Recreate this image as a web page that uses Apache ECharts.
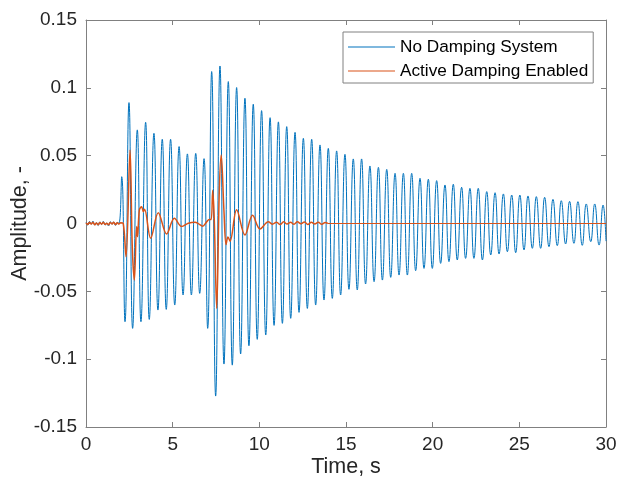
<!DOCTYPE html>
<html>
<head>
<meta charset="utf-8">
<script src="https://cdn.jsdelivr.net/npm/echarts@6/dist/echarts.min.js"></script>
<style>
html,body{margin:0;padding:0;background:#fff;}
#chart{width:617px;height:481px;}
</style>
</head>
<body>
<div id="chart"></div>
<script>
// Tick labels / ranges
const xTicks = [0, 5, 10, 15, 20, 25, 30];
const yTicks = [-0.15, -0.1, -0.05, 0, 0.05, 0.1, 0.15];
const seriesNames = ['No Damping System', 'Active Damping Enabled'];

// "No Damping System": time (s) of samples / extrema
const noDampT = [
  0,0.1,0.2,0.3,0.4,0.5,0.6,0.7,0.8,0.9,1.0,1.1,1.2,1.3,1.4,1.5,1.6,1.7,1.8,1.9,
  2.06,2.25,2.48,2.69,2.96,3.17,3.44,3.65,3.92,4.15,4.40,4.63,4.88,5.12,5.37,5.60,5.85,6.08,6.33,6.56,6.81,7.02,
  7.25,7.48,7.73,7.96,8.21,8.44,8.69,8.92,9.17,9.40,9.65,9.88,10.13,10.37,10.62,10.85,11.10,11.33,11.58,11.81,
  12.06,12.29,12.54,12.77,13.02,13.25,13.50,13.73,13.98,14.21,14.46,14.69,14.94,15.17,15.42,15.65,15.90,16.13,
  16.38,16.62,16.87,17.10,17.35,17.58,17.83,18.06,18.31,18.54,18.79,19.02,19.27,19.50,19.75,19.98,20.23,20.46,
  20.71,20.94,21.19,21.42,21.67,21.90,22.15,22.38,22.63,22.87,23.12,23.35,23.60,23.83,24.08,24.31,24.56,24.79,
  25.03,25.27,25.50,25.75,25.98,26.23,26.46,26.71,26.94,27.19,27.42,27.67,27.90,28.15,28.38,28.63,28.86,29.12,
  29.35,29.60,29.83,30.0
];
const noDampV = [
  0.0008,-0.0012,0.0015,-0.0005,0.0018,-0.0010,0.0006,-0.0015,0.0012,-0.0008,0.0016,-0.0012,0.0004,-0.0018,0.0014,-0.0006,0.0012,-0.0014,0.0008,0.0002,
  0.0345,-0.0724,0.0891,-0.0773,0.0690,-0.0724,0.0746,-0.0707,0.0665,-0.0638,0.0621,-0.0633,0.0621,-0.0601,0.0567,-0.0527,0.0513,-0.0527,0.0517,-0.0515,0.0478,-0.0773,
  0.1120,-0.1272,0.1161,-0.1036,0.1046,-0.1044,0.1002,-0.0962,0.0923,-0.0901,0.0879,-0.0854,0.0832,-0.0822,0.0780,-0.0751,0.0749,-0.0736,0.0714,-0.0699,
  0.0672,-0.0655,0.0628,-0.0626,0.0621,-0.0601,0.0579,-0.0564,0.0554,-0.0552,0.0535,-0.0527,0.0510,-0.0485,0.0476,-0.0490,0.0476,-0.0446,
  0.0424,-0.0429,0.0414,-0.0417,0.0399,-0.0397,0.0370,-0.0380,0.0370,-0.0380,0.0370,-0.0348,0.0333,-0.0331,0.0326,-0.0331,0.0316,-0.0294,
  0.0284,-0.0281,0.0289,-0.0269,0.0267,-0.0257,0.0259,-0.0257,0.0259,-0.0269,0.0235,-0.0232,0.0227,-0.0225,0.0218,-0.0208,0.0210,-0.0215,
  0.0210,-0.0195,0.0203,-0.0183,0.0198,-0.0183,0.0193,-0.0171,0.0178,-0.0163,0.0168,-0.0151,0.0163,-0.0146,0.0161,-0.0161,0.0144,-0.0134,
  0.0144,-0.0159,0.0136,-0.0130
];

// "Active Damping Enabled": noisy/controlled part
const activeT = [
  0,0.1,0.2,0.3,0.4,0.5,0.6,0.7,0.8,0.9,1.0,1.1,1.2,1.3,1.4,1.5,1.6,1.7,1.8,1.9,2.0,2.15,
  2.31,2.54,2.67,2.79,2.92,2.97,3.08,3.21,3.31,3.38,3.73,4.17,4.65,5.10,5.52,5.90,6.29,6.50,6.73,6.95,7.11,7.22,
  7.31,7.40,7.54,7.69,7.80,7.96,8.08,8.19,8.31,8.69,9.17,9.61,10.04,10.52,10.75,
  11.0,11.2,11.4,11.6,11.8,12.0,12.2,12.4,12.6,12.8,13.0,13.2,13.4,13.6,13.8,13.95
];
const activeV = [
  0.0005,-0.0008,0.0010,-0.0004,0.0009,-0.0010,0.0003,-0.0009,0.0007,-0.0005,0.0010,-0.0007,0.0002,-0.0010,0.0008,-0.0003,0.0009,-0.0008,0.0005,-0.0004,0.0006,0.0000,
  -0.0245,0.0542,-0.0171,-0.0417,-0.0023,-0.0097,0.0100,0.0124,0.0087,0.0105,-0.0109,0.0080,-0.0077,0.0038,-0.0023,0.0002,0.0010,-0.0003,-0.0020,0.0010,0.0030,0.0030,
  0.0245,0.0030,-0.0626,0.0240,0.0505,0.0090,-0.0155,-0.0100,-0.0130,0.0101,-0.0085,0.0060,-0.0040,0.0013,-0.0005,
  0.0010,-0.0008,0.0012,-0.0004,0.0010,-0.0006,0.0012,-0.0002,0.0011,-0.0007,0.0009,-0.0004,0.0010,-0.0006,0.0008,0.0000
];
// "Active Damping Enabled": flat tail after the controller output settles
const activeTailT = [13.95, 30];
const activeTailV = [0, 0];

const zip = (a, b) => a.map((t, i) => [t, b[i]]);

const BLUE = '#0072BD', ORANGE = '#D95319';
const AX = '#808080', TXT = '#262626';
const FONT = '"Liberation Sans", Arial, Helvetica, sans-serif';

const chart = echarts.init(document.getElementById('chart'), null, {renderer: 'canvas'});

const baseX = {
  type: 'value', min: xTicks[0], max: xTicks[xTicks.length - 1], interval: 5,
  axisLine: {show: true, onZero: false, lineStyle: {color: AX, width: 1}},
  axisTick: {show: true, inside: true, length: 5, lineStyle: {color: AX}},
  splitLine: {show: false}
};
const baseY = {
  type: 'value', min: yTicks[0], max: yTicks[yTicks.length - 1], interval: 0.05,
  axisLine: {show: true, onZero: false, lineStyle: {color: AX, width: 1}},
  axisTick: {show: true, inside: true, length: 5, lineStyle: {color: AX}},
  splitLine: {show: false}
};

chart.setOption({
  animation: false,
  backgroundColor: '#fff',
  textStyle: {fontFamily: FONT},
  grid: {left: 86, right: 11, top: 20, bottom: 54, containLabel: false, outerBoundsMode: 'none'},
  legend: {
    data: seriesNames.map(n => ({name: n, icon: 'rect'})),
    orient: 'vertical',
    left: 343, top: 32,
    itemWidth: 47, itemHeight: 1.2, itemGap: 4,
    padding: [5, 5, 2, 5],
    borderColor: AX, borderWidth: 1, backgroundColor: '#fff',
    textStyle: {fontSize: 17.2, color: '#000', fontFamily: FONT, lineHeight: 20}
  },
  xAxis: [
    Object.assign({}, baseX, {
      position: 'bottom',
      name: 'Time, s', nameLocation: 'middle', nameGap: 29, nameMoveOverlap: false,
      nameTextStyle: {fontSize: 21.5, color: TXT, fontFamily: FONT},
      axisLabel: {show: true, margin: 8, fontSize: 19, color: TXT, fontFamily: FONT}
    }),
    Object.assign({}, baseX, {position: 'top', axisLabel: {show: false}})
  ],
  yAxis: [
    Object.assign({}, baseY, {
      position: 'left',
      name: 'Amplitude, -', nameLocation: 'middle', nameGap: 55, nameMoveOverlap: false,
      nameTextStyle: {fontSize: 21.5, color: TXT, fontFamily: FONT},
      axisLabel: {show: true, margin: 9, fontSize: 19, color: TXT, fontFamily: FONT}
    }),
    Object.assign({}, baseY, {position: 'right', axisLabel: {show: false}})
  ],
  series: [
    {
      name: seriesNames[0], type: 'line', xAxisIndex: 0, yAxisIndex: 0,
      data: zip(noDampT, noDampV), showSymbol: false, symbol: 'none',
      smooth: 0.5, lineStyle: {color: BLUE, width: 1}, itemStyle: {color: BLUE}, z: 2
    },
    {
      name: seriesNames[1], type: 'line', xAxisIndex: 0, yAxisIndex: 0,
      data: zip(activeT, activeV), showSymbol: false, symbol: 'none',
      smooth: 0.35, lineStyle: {color: ORANGE, width: 1.5}, itemStyle: {color: ORANGE}, z: 3
    },
    {
      name: seriesNames[1], type: 'line', xAxisIndex: 0, yAxisIndex: 0,
      data: zip(activeTailT, activeTailV), showSymbol: false, symbol: 'none',
      lineStyle: {color: ORANGE, width: 1}, itemStyle: {color: ORANGE}, z: 3
    }
  ]
});
</script>
</body>
</html>
